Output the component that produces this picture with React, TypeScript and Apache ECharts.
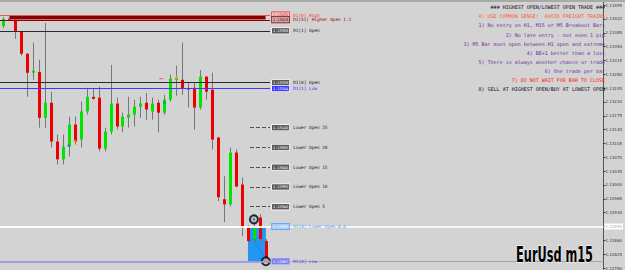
import React, { useEffect, useRef } from "react";
import * as echarts from "echarts";

// ---- data (EURUSD, M15) ----
const times = [
  "11:00", "11:15", "11:30", "11:45", "12:00", "12:15", "12:30", "12:45", "13:00", "13:15",
  "13:30", "13:45", "14:00", "14:15", "14:30", "14:45", "15:00", "15:15", "15:30", "15:45",
  "16:00", "16:15", "16:30", "16:45", "17:00", "17:15", "17:30", "17:45", "18:00", "18:15",
  "18:30", "18:45", "19:00", "19:15", "19:30", "19:45", "20:00", "20:15", "20:30", "20:45",
  "21:00", "21:15", "21:30", "21:45", "22:00",
];
const opens = [
  1.13402, 1.13421, 1.13418, 1.13387, 1.13332, 1.13284, 1.13286, 1.1317, 1.13208, 1.1311,
  1.13065, 1.13097, 1.13153, 1.13115, 1.13186, 1.13223, 1.13221, 1.13092, 1.13135, 1.13206,
  1.13148, 1.1317, 1.13178, 1.13198, 1.13208, 1.13186, 1.13208, 1.13183, 1.13216, 1.13266,
  1.13266, 1.13244, 1.13246, 1.13196, 1.13274, 1.13241, 1.1312, 1.12964, 1.12951, 1.13082,
  1.13001, 1.12896, 1.12863, 1.12918, 1.12858,
];
const closes = [
  1.1342, 1.13418, 1.13387, 1.13332, 1.13284, 1.13289, 1.1317, 1.13208, 1.1311, 1.13065,
  1.13097, 1.13153, 1.1311, 1.13186, 1.13223, 1.13218, 1.13092, 1.13135, 1.13206, 1.13148,
  1.13173, 1.13178, 1.13198, 1.13206, 1.13191, 1.13206, 1.13183, 1.13216, 1.13269, 1.13271,
  1.13244, 1.13243, 1.13196, 1.13274, 1.13236, 1.13115, 1.12969, 1.12951, 1.13082, 1.12996,
  1.12896, 1.12858, 1.12893, 1.12863, 1.1281,
];
const lows = [
  1.13397, 1.13415, 1.1337, 1.13327, 1.13223, 1.13266, 1.13145, 1.13145, 1.13095, 1.13052,
  1.13052, 1.13072, 1.13102, 1.13095, 1.13178, 1.13216, 1.13085, 1.13085, 1.13128, 1.1314,
  1.13133, 1.13145, 1.13148, 1.1317, 1.13165, 1.13165, 1.13133, 1.13178, 1.13211, 1.13226,
  1.13228, 1.13196, 1.1314, 1.13191, 1.13216, 1.1309, 1.12959, 1.12906, 1.12946, 1.12994,
  1.1287, 1.12855, 1.1285, 1.1285, 1.12807,
];
const highs = [
  1.13425, 1.1343, 1.1342, 1.1339, 1.13334, 1.1336, 1.13317, 1.1341, 1.13236, 1.13128,
  1.13128, 1.13173, 1.13173, 1.13211, 1.13246, 1.13246, 1.13249, 1.13145, 1.13304, 1.13221,
  1.13183, 1.13223, 1.13216, 1.13223, 1.13233, 1.13221, 1.13216, 1.13228, 1.13279, 1.13302,
  1.1336, 1.13259, 1.13259, 1.13291, 1.13276, 1.13284, 1.13122, 1.13022, 1.13095, 1.1309,
  1.13019, 1.12898, 1.12926, 1.12926, 1.12863,
];

const d1High = 1.1343;
const d1HigherOpen = 1.13418;
const d1PrevOpen = 1.1339;
const d1Open = 1.13259;
const d1PrevLow = 1.13244;
const lowerOpenSteps = ["25", "20", "15", "10", "5"];
const lowerOpenLevels = [1.13145, 1.13095, 1.13045, 1.12995, 1.12945];
const lowestOpen = 1.12895;
const d1Low = 1.12807;

const priceTicks = [
  1.13455, 1.1342, 1.13385, 1.1335, 1.13315, 1.1328, 1.13245, 1.1321, 1.13175, 1.1314,
  1.13105, 1.1307, 1.13035, 1.13, 1.12965, 1.1293, 1.12895, 1.1286, 1.12825, 1.1279,
];
const priceMin = 1.12787;
const priceMax = 1.13468;

const ruleLines = [
  "### HIGHEST OPEN/LOWEST OPEN TRADE ###",
  "0) USE COMMON SENSE!  AVOID FREIGHT TRAINS",
  "1) No entry on H1, M15 or M5 Breakout Bars",
  "2) No late entry - not even 1 pip",
  "3) M5 Bar must open between H1 open and extreme",
  "4) BE+1 better than a loss",
  "5) There is always another chance or trade",
  "6) One trade per bar",
  "7) DO NOT WAIT FOR BAR TO CLOSE",
  "8) SELL AT HIGHEST OPEN/BUY AT LOWEST OPEN",
];
const ruleColors = ["#111111", "#ff5a36", "#6f2fa6", "#6f2fa6", "#6f2fa6", "#6f2fa6", "#6f2fa6", "#6f2fa6", "#ff2020", "#111111"];

const ringPoints = [[42, 1.12913], [44, 1.12807]];
const blueDots = [[11, 1.131], [27, 1.13208], [42, 1.12913]];
const orangeDots = [[12, 1.13112], [29, 1.13271], [44, 1.12807]];
const redDashes = [[27, 1.13269]];
const chartTitle = "EurUsd m15";

const mono = '"DejaVu Sans Mono", monospace';

function segment(
  price: number,
  x0: number,
  x1: number,
  line: any,
  box: any,
  labelColor: string,
  text: string
) {
  return [
    {
      x: x0,
      yAxis: price,
      lineStyle: line,
      label: {
        show: true,
        position: "end",
        distance: 2,
        formatter: () => `{p|${price.toFixed(5)}}{n|${text}}`,
        rich: {
          p: {
            fontSize: 3.6,
            fontFamily: mono,
            padding: [1, 1, 0.4, 1],
            borderWidth: 0.7,
            lineHeight: 5,
            ...box,
          },
          n: { color: labelColor, fontSize: 4.4, fontFamily: mono, padding: [0, 0, 0, 4] },
        },
      },
    },
    { x: x1, yAxis: price },
  ];
}

export default function App() {
  const ref = useRef<HTMLDivElement>(null);
  useEffect(() => {
    if (!ref.current) return;
    const chart = echarts.init(ref.current, null, { renderer: "svg" });
    const slots = 101;
    const categories = times.concat(Array.from({ length: slots - times.length }, () => ""));
    const candles = times.map((t, i) => [i, opens[i], closes[i], lows[i], highs[i]]);

    const greyBox = { backgroundColor: "#5a5a5a", borderColor: "#ffffff", color: "#ffffff" };
    const lastClose = closes[closes.length - 1];

    const markLines: any[] = [
      { yAxis: lowestOpen, lineStyle: { color: "#ffffff", width: 1.5, type: "solid" },
        label: { show: true, position: "end", distance: 1, formatter: () => lowestOpen.toFixed(5),
          backgroundColor: "#ffffff", color: "#b0b0b0", fontSize: 4, padding: [1, 1], fontFamily: "DejaVu Sans" } },
      { yAxis: d1Low, lineStyle: { color: "#a8a8a8", width: 1, type: "solid" }, label: { show: false } },
      { yAxis: lastClose, lineStyle: { opacity: 0 },
        label: { show: true, position: "end", distance: 1, formatter: () => lastClose.toFixed(5),
          backgroundColor: "#000000", color: "#ffffff", fontSize: 4, padding: [1, 1], fontFamily: "DejaVu Sans" } },
      segment(d1High, 0, 270, { color: "#d06060", width: 1, type: "solid" },
        { backgroundColor: "#f2c4c4", borderColor: "#ff3030", color: "#d03030" }, "#ff2a2a", "D1[0] High"),
      segment(d1HigherOpen, 0, 270, { color: "#8b0000", width: 1, type: "solid" },
        { backgroundColor: "#c9aaaa", borderColor: "#8b0000", color: "#6a0000" }, "#a00000", "D1[41] Higher Open 1.2"),
      segment(d1PrevOpen, 0, 270, { color: "#2a2a2a", width: 1, type: "solid" }, greyBox, "#111111", "D1[1] Open"),
      segment(d1Open, 0, 270, { color: "#2a2a2a", width: 1, type: "solid" }, greyBox, "#111111", "D1[0] Open"),
      segment(d1PrevLow, 0, 270, { color: "#3c3cff", width: 1, type: "solid" },
        { backgroundColor: "#3c3cff", borderColor: "#ffffff", color: "#ffffff" }, "#2a2aff", "D1[1] Low"),
      ...lowerOpenLevels.map((lv, k) =>
        segment(lv, 250, 270, { color: "#505050", width: 1, type: [4, 2] }, greyBox, "#222222", "Lower Open " + lowerOpenSteps[k])
      ),
      segment(lowestOpen, 0, 270, { color: "#ffffff", width: 1.5, type: "solid" },
        { backgroundColor: "#a6cdf2", borderColor: "#5aa0ff", color: "#ffffff" }, "#4aa0ff", "D1[0] Lower Open 0.0"),
      segment(d1Low, 0, 270, { color: "#9494ea", width: 1.5, type: "solid" },
        { backgroundColor: "#8080f0", borderColor: "#a8a8ff", color: "#ffffff" }, "#4040e0", "D1[0] Low"),
      [
        { xAxis: 42, yAxis: closes[42] - 0.0003, lineStyle: { color: "#2a5cff", width: 1, type: "dotted" }, label: { show: false } },
        { xAxis: 44, yAxis: d1Low },
      ],
    ];

    const option: any = {
      animation: false,
      backgroundColor: "#d3d3d3",
      grid: { left: 0, right: 18, top: 0, bottom: 0, containLabel: false },
      xAxis: {
        type: "category",
        data: categories,
        boundaryGap: true,
        show: false,
      },
      yAxis: {
        type: "value",
        position: "right",
        min: priceMin,
        max: priceMax,
        scale: true,
        splitLine: { show: false },
        axisLine: { show: true, lineStyle: { color: "#555555", width: 1 } },
        axisTick: { show: true, length: 2, customValues: priceTicks, lineStyle: { color: "#333333" } },
        axisLabel: {
          customValues: priceTicks,
          formatter: (v: number) => v.toFixed(5),
          fontSize: 4,
          color: "#333333",
          margin: 2,
          fontFamily: "DejaVu Sans",
        },
      },
      series: [
        {
          type: "custom",
          name: "EURUSD",
          data: candles,
          encode: { x: 0, y: [1, 2, 3, 4] },
          clip: false,
          renderItem: (params: any, api: any) => {
            const i = api.value(0);
            const o = api.value(1);
            const c = api.value(2);
            const l = api.value(3);
            const h = api.value(4);
            const pO = api.coord([i, o]);
            const pC = api.coord([i, c]);
            const pL = api.coord([i, l]);
            const pH = api.coord([i, h]);
            const cx = Math.round(pO[0]);
            const top = Math.min(pO[1], pC[1]);
            const bot = Math.max(pO[1], pC[1]);
            const up = c > o;
            return {
              type: "group",
              children: [
                { type: "line", shape: { x1: cx + 0.5, y1: pH[1], x2: cx + 0.5, y2: pL[1] },
                  style: { stroke: "#777777", lineWidth: 1 } },
                { type: "rect", shape: { x: cx - 1, y: top, width: 3, height: Math.max(1, bot - top) },
                  style: { fill: up ? "#00e400" : "#ec0000" } },
              ],
            };
          },
          markArea: {
            silent: true,
            data: [
              [
                { xAxis: 1, yAxis: d1High, itemStyle: { color: "#8b0000", borderColor: "#e8c8c8", borderWidth: 0.6 } },
                { xAxis: 44, yAxis: d1HigherOpen },
              ],
              [
                { xAxis: 41, yAxis: lowestOpen, itemStyle: { color: "#2196f3", opacity: 1 } },
                { xAxis: 44, yAxis: d1Low },
              ],
            ],
          },
          markLine: {
            silent: true,
            symbol: ["none", "none"],
            precision: 5,
            animation: false,
            data: markLines,
          },
        },
        {
          type: "scatter",
          data: ringPoints,
          symbol: "circle",
          symbolSize: 8,
          z: 4,
          itemStyle: { color: "#bcc6c6", borderColor: "#000000", borderWidth: 2 },
        },
        {
          type: "scatter",
          data: blueDots,
          symbolSize: 2.5,
          z: 5,
          itemStyle: { color: "#2060ff" },
        },
        {
          type: "scatter",
          data: orangeDots,
          symbolSize: 2.5,
          z: 5,
          itemStyle: { color: "#f0a020" },
        },
        {
          type: "scatter",
          data: redDashes,
          symbol: "rect",
          symbolSize: [4, 1],
          symbolOffset: [-3, 0],
          z: 5,
          itemStyle: { color: "#ff4040" },
        },
      ],
      graphic: [
        { type: "rect", shape: { x: 0, y: 0, width: 625, height: 2 }, style: { fill: "#a9a9a9" }, z: 10 },
        ...ruleLines.map((t, k) => ({
          type: "text",
          x: 605,
          y: 7.3 + k * 9.07,
          z: 10,
          style: { text: t, fill: ruleColors[k], font: `5px ${mono}`, align: "right", verticalAlign: "middle" },
        })),
        {
          type: "text",
          x: 593,
          y: 254.5,
          scaleX: 0.6,
          z: 10,
          style: {
            text: chartTitle,
            fill: "#000000",
            stroke: "#ffffff",
            lineWidth: 0.8,
            font: 'bold 21px "Liberation Sans Narrow", "DejaVu Sans Condensed", "Liberation Sans", sans-serif',
            align: "right",
            verticalAlign: "middle",
          },
        },
      ],
    };
    chart.setOption(option);
    return () => chart.dispose();
  }, []);
  return (
    <div
      ref={ref}
      style={{ position: "fixed", left: 0, top: 0, width: 625, height: 270 }}
    />
  );
}
